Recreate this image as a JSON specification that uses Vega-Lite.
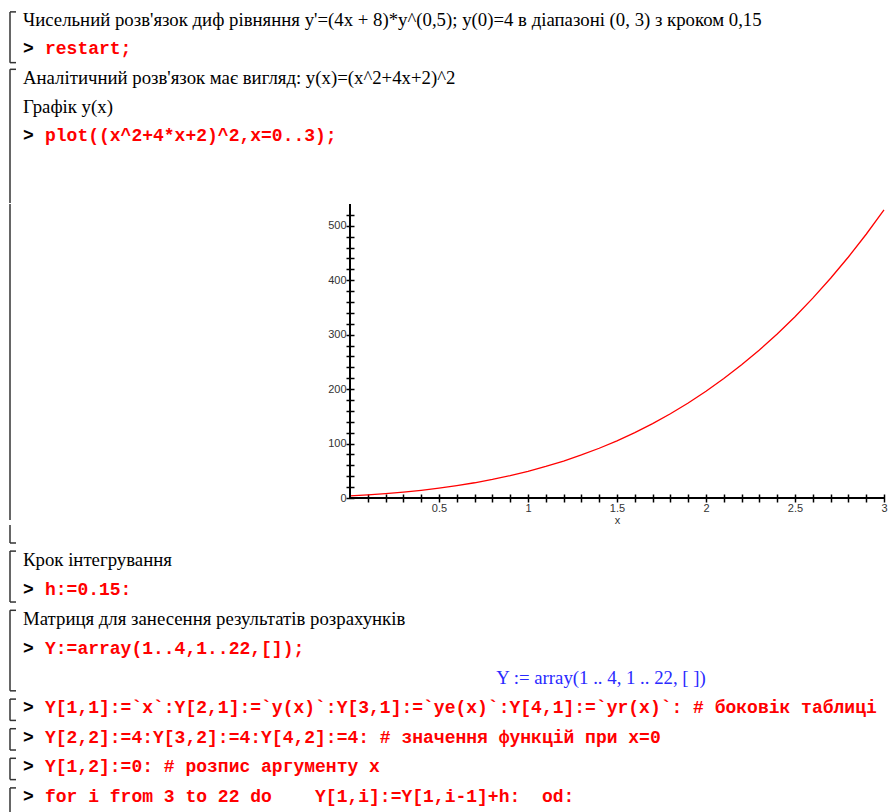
{
  "$schema": "https://vega.github.io/schema/vega-lite/v6.json",
  "padding": 0,
  "background": "white",
  "config": {"view": {"stroke": null}},
  "datasets": {
    "top": [
      {"line": 1, "kind": "prose", "text": "Чисельний розв'язок диф рівняння y'=(4x + 8)*y^(0,5);  y(0)=4 в діапазоні (0, 3) з кроком 0,15"},
      {"line": 2, "kind": "code", "text": "restart;"},
      {"line": 3, "kind": "prose", "text": "Аналітичний розв'язок має вигляд: y(x)=(x^2+4x+2)^2"},
      {"line": 4, "kind": "prose", "text": "Графік y(x)"},
      {"line": 5, "kind": "code", "text": "plot((x^2+4*x+2)^2,x=0..3);"}
    ],
    "topBrackets": [
      {"from": 0.72, "to": 2.47, "hookTop": true, "hookBottom": true},
      {"from": 2.7, "to": 7.31, "hookTop": true, "hookBottom": false}
    ],
    "midBrackets": [
      {"from": -0.075, "to": 1}
    ],
    "bottom": [
      {"line": 1, "kind": "prose", "text": "Крок інтегрування"},
      {"line": 2, "kind": "code", "text": "h:=0.15:"},
      {"line": 3, "kind": "prose", "text": "Матриця для занесення результатів розрахунків"},
      {"line": 4, "kind": "code", "text": "Y:=array(1..4,1..22,[]);"},
      {"line": 5, "kind": "output", "text": "Y := array(1 .. 4, 1 .. 22, [ ])"},
      {"line": 6, "kind": "code", "text": "Y[1,1]:=`x`:Y[2,1]:=`y(x)`:Y[3,1]:=`ye(x)`:Y[4,1]:=`yr(x)`: # боковік таблиці"},
      {"line": 7, "kind": "code", "text": "Y[2,2]:=4:Y[3,2]:=4:Y[4,2]:=4: # значення функцій при x=0"},
      {"line": 8, "kind": "code", "text": "Y[1,2]:=0: # розпис аргументу x"},
      {"line": 9, "kind": "code", "text": "for i from 3 to 22 do\u00a0\u00a0\u00a0\u00a0Y[1,i]:=Y[1,i-1]+h:\u00a0\u00a0od:"}
    ],
    "bottomBrackets": [
      {"from": -0.182, "to": 0.426, "hookTop": false, "hookBottom": true},
      {"from": 0.7, "to": 2.42, "hookTop": true, "hookBottom": true},
      {"from": 2.7, "to": 5.42, "hookTop": true, "hookBottom": true},
      {"from": 5.7, "to": 6.42, "hookTop": true, "hookBottom": true},
      {"from": 6.7, "to": 7.42, "hookTop": true, "hookBottom": true},
      {"from": 7.7, "to": 8.42, "hookTop": true, "hookBottom": true},
      {"from": 8.7, "to": 9.514, "hookTop": true, "hookBottom": false}
    ],
    "curve": [
      {"x": 0.0, "y": 4.0}, {"x": 0.1, "y": 5.81}, {"x": 0.2, "y": 8.07}, {"x": 0.3, "y": 10.82},
      {"x": 0.4, "y": 14.14}, {"x": 0.5, "y": 18.06}, {"x": 0.6, "y": 22.66}, {"x": 0.7, "y": 27.98},
      {"x": 0.8, "y": 34.11}, {"x": 0.9, "y": 41.09}, {"x": 1.0, "y": 49.0}, {"x": 1.1, "y": 57.91},
      {"x": 1.2, "y": 67.9}, {"x": 1.3, "y": 79.03}, {"x": 1.4, "y": 91.39}, {"x": 1.5, "y": 105.06},
      {"x": 1.6, "y": 120.12}, {"x": 1.7, "y": 136.66}, {"x": 1.8, "y": 154.75}, {"x": 1.9, "y": 174.5},
      {"x": 2.0, "y": 196.0}, {"x": 2.1, "y": 219.34}, {"x": 2.2, "y": 244.61}, {"x": 2.3, "y": 271.92},
      {"x": 2.4, "y": 301.37}, {"x": 2.5, "y": 333.06}, {"x": 2.6, "y": 367.11}, {"x": 2.7, "y": 403.61},
      {"x": 2.8, "y": 442.68}, {"x": 2.9, "y": 484.44}, {"x": 3.0, "y": 529.0}
    ]
  },
  "spacing": -2,
  "vconcat": [
    {
      "width": 890,
      "height": 203,
      "layer": [
        {
          "data": {"name": "topBrackets"},
          "mark": {"type": "rule", "color": "#333", "strokeWidth": 1.5},
          "encoding": {
            "x": {"datum": 1.0, "type": "quantitative", "scale": {"domain": [0, 89]}, "axis": null},
            "y": {"field": "from", "type": "quantitative", "scale": {"domain": [0.31, 7.31], "reverse": true}, "axis": null},
            "y2": {"field": "to"}
          }
        },
        {
          "data": {"name": "topBrackets"},
          "transform": [{"filter": "datum.hookTop"}],
          "mark": {"type": "rule", "color": "#333", "strokeWidth": 1.5},
          "encoding": {
            "x": {"datum": 1.0, "type": "quantitative", "scale": {"domain": [0, 89]}, "axis": null},
            "x2": {"datum": 1.6},
            "y": {"field": "from", "type": "quantitative", "scale": {"domain": [0.31, 7.31], "reverse": true}, "axis": null}
          }
        },
        {
          "data": {"name": "topBrackets"},
          "transform": [{"filter": "datum.hookBottom"}],
          "mark": {"type": "rule", "color": "#333", "strokeWidth": 1.5},
          "encoding": {
            "x": {"datum": 1.0, "type": "quantitative", "scale": {"domain": [0, 89]}, "axis": null},
            "x2": {"datum": 1.6},
            "y": {"field": "to", "type": "quantitative", "scale": {"domain": [0.31, 7.31], "reverse": true}, "axis": null}
          }
        },
        {
          "data": {"name": "top"},
          "transform": [{"filter": "datum.kind === 'prose'"}],
          "mark": {"type": "text", "align": "left", "baseline": "middle", "font": "Liberation Serif", "fontSize": 18.8, "color": "#000"},
          "encoding": {
            "x": {"datum": 2.3, "type": "quantitative", "scale": {"domain": [0, 89]}, "axis": null},
            "y": {"field": "line", "type": "quantitative", "scale": {"domain": [0.31, 7.31], "reverse": true}, "axis": null},
            "text": {"field": "text"}
          }
        },
        {
          "data": {"name": "top"},
          "transform": [{"filter": "datum.kind === 'code'"}],
          "mark": {"type": "text", "align": "left", "baseline": "middle", "font": "Liberation Mono", "fontWeight": "bold", "fontSize": 18, "color": "#000"},
          "encoding": {
            "x": {"datum": 2.3, "type": "quantitative", "scale": {"domain": [0, 89]}, "axis": null},
            "y": {"field": "line", "type": "quantitative", "scale": {"domain": [0.31, 7.31], "reverse": true}, "axis": null},
            "text": {"value": ">"}
          }
        },
        {
          "data": {"name": "top"},
          "transform": [{"filter": "datum.kind === 'code'"}],
          "mark": {"type": "text", "align": "left", "baseline": "middle", "font": "Liberation Mono", "fontWeight": "bold", "fontSize": 18, "color": "#ff0000"},
          "encoding": {
            "x": {"datum": 4.5, "type": "quantitative", "scale": {"domain": [0, 89]}, "axis": null},
            "y": {"field": "line", "type": "quantitative", "scale": {"domain": [0.31, 7.31], "reverse": true}, "axis": null},
            "text": {"field": "text"}
          }
        }
      ]
    },
    {
      "spacing": 0,
      "bounds": "flush",
      "hconcat": [
        {
          "width": 350,
          "height": 294,
          "data": {"name": "midBrackets"},
          "mark": {"type": "rule", "color": "#333", "strokeWidth": 1.5},
          "encoding": {
            "x": {"datum": 1.0, "type": "quantitative", "scale": {"domain": [0, 35]}, "axis": null},
            "y": {"field": "from", "type": "quantitative", "scale": {"domain": [0, 1]}, "axis": null},
            "y2": {"field": "to"}
          }
        },
        {
          "width": 534,
          "height": 294,
          "resolve": {"axis": {"x": "independent", "y": "independent"}},
          "layer": [
            {
              "data": {"name": "curve"},
              "mark": {"type": "line", "color": "#ff0000", "strokeWidth": 1.3},
              "encoding": {
                "x": {
                  "field": "x", "type": "quantitative",
                  "scale": {"domain": [0, 3], "nice": false, "zero": false},
                  "axis": {
                    "orient": "bottom",
                    "values": [0.5, 1, 1.5, 2, 2.5, 3],
                    "format": "~g",
                    "domain": false, "grid": false, "offset": -4,
                    "tickSize": 8, "tickWidth": 1.5, "tickColor": "#000",
                    "labelColor": "#333", "labelFont": "Liberation Sans", "labelFontSize": 11,
                    "labelPadding": 0, "labelOverlap": false, "labelFlush": false, "labelBound": false,
                    "title": "x", "titleFont": "Liberation Sans", "titleFontSize": 11, "titleFontWeight": "normal",
                    "titleColor": "#333", "titlePadding": 1
                  }
                },
                "y": {
                  "field": "y", "type": "quantitative",
                  "scale": {"domain": [0, 540], "nice": false},
                  "axis": {
                    "orient": "left",
                    "values": [0, 100, 200, 300, 400, 500],
                    "domain": false, "grid": false, "offset": -4,
                    "tickSize": 8, "tickWidth": 1.5, "tickColor": "#000",
                    "labelColor": "#333", "labelFont": "Liberation Sans", "labelFontSize": 11,
                    "labelPadding": 0, "labelOverlap": false, "labelBound": false,
                    "title": null
                  }
                }
              }
            },
            {
              "data": {"values": [{}]},
              "mark": {"type": "rule", "color": "#000", "strokeWidth": 2},
              "encoding": {
                "x": {
                  "datum": 0, "type": "quantitative",
                  "axis": {
                    "orient": "bottom",
                    "values": [0.1, 0.2, 0.3, 0.4, 0.6, 0.7, 0.8, 0.9, 1.1, 1.2, 1.3, 1.4, 1.6, 1.7, 1.8, 1.9, 2.1, 2.2, 2.3, 2.4, 2.6, 2.7, 2.8, 2.9],
                    "labels": false, "domain": false, "grid": false, "offset": -4,
                    "tickSize": 8, "tickWidth": 1.5, "tickColor": "#000", "title": null
                  }
                },
                "x2": {"datum": 3},
                "y": {"datum": 0, "type": "quantitative", "axis": null}
              }
            },
            {
              "data": {"values": [{}]},
              "mark": {"type": "rule", "color": "#000", "strokeWidth": 2},
              "encoding": {
                "x": {"datum": 0, "type": "quantitative", "axis": null},
                "y": {
                  "datum": 0, "type": "quantitative",
                  "axis": {
                    "orient": "left",
                    "values": [20, 40, 60, 80, 120, 140, 160, 180, 220, 240, 260, 280, 320, 340, 360, 380, 420, 440, 460, 480, 520],
                    "labels": false, "domain": false, "grid": false, "offset": -4,
                    "tickSize": 8, "tickWidth": 1.5, "tickColor": "#000", "title": null
                  }
                },
                "y2": {"datum": 540}
              }
            }
          ]
        }
      ]
    },
    {
      "width": 890,
      "height": 287,
      "layer": [
        {
          "data": {"name": "bottomBrackets"},
          "mark": {"type": "rule", "color": "#333", "strokeWidth": 1.5},
          "encoding": {
            "x": {"datum": 1.0, "type": "quantitative", "scale": {"domain": [0, 89]}, "axis": null},
            "y": {"field": "from", "type": "quantitative", "scale": {"domain": [-0.182, 9.514], "reverse": true}, "axis": null},
            "y2": {"field": "to"}
          }
        },
        {
          "data": {"name": "bottomBrackets"},
          "transform": [{"filter": "datum.hookTop"}],
          "mark": {"type": "rule", "color": "#333", "strokeWidth": 1.5},
          "encoding": {
            "x": {"datum": 1.0, "type": "quantitative", "scale": {"domain": [0, 89]}, "axis": null},
            "x2": {"datum": 1.6},
            "y": {"field": "from", "type": "quantitative", "scale": {"domain": [-0.182, 9.514], "reverse": true}, "axis": null}
          }
        },
        {
          "data": {"name": "bottomBrackets"},
          "transform": [{"filter": "datum.hookBottom"}],
          "mark": {"type": "rule", "color": "#333", "strokeWidth": 1.5},
          "encoding": {
            "x": {"datum": 1.0, "type": "quantitative", "scale": {"domain": [0, 89]}, "axis": null},
            "x2": {"datum": 1.6},
            "y": {"field": "to", "type": "quantitative", "scale": {"domain": [-0.182, 9.514], "reverse": true}, "axis": null}
          }
        },
        {
          "data": {"name": "bottom"},
          "transform": [{"filter": "datum.kind === 'prose'"}],
          "mark": {"type": "text", "align": "left", "baseline": "middle", "font": "Liberation Serif", "fontSize": 18.8, "color": "#000"},
          "encoding": {
            "x": {"datum": 2.3, "type": "quantitative", "scale": {"domain": [0, 89]}, "axis": null},
            "y": {"field": "line", "type": "quantitative", "scale": {"domain": [-0.182, 9.514], "reverse": true}, "axis": null},
            "text": {"field": "text"}
          }
        },
        {
          "data": {"name": "bottom"},
          "transform": [{"filter": "datum.kind === 'code'"}],
          "mark": {"type": "text", "align": "left", "baseline": "middle", "font": "Liberation Mono", "fontWeight": "bold", "fontSize": 18, "color": "#000"},
          "encoding": {
            "x": {"datum": 2.3, "type": "quantitative", "scale": {"domain": [0, 89]}, "axis": null},
            "y": {"field": "line", "type": "quantitative", "scale": {"domain": [-0.182, 9.514], "reverse": true}, "axis": null},
            "text": {"value": ">"}
          }
        },
        {
          "data": {"name": "bottom"},
          "transform": [{"filter": "datum.kind === 'code'"}],
          "mark": {"type": "text", "align": "left", "baseline": "middle", "font": "Liberation Mono", "fontWeight": "bold", "fontSize": 18, "color": "#ff0000"},
          "encoding": {
            "x": {"datum": 4.5, "type": "quantitative", "scale": {"domain": [0, 89]}, "axis": null},
            "y": {"field": "line", "type": "quantitative", "scale": {"domain": [-0.182, 9.514], "reverse": true}, "axis": null},
            "text": {"field": "text"}
          }
        },
        {
          "data": {"name": "bottom"},
          "transform": [{"filter": "datum.kind === 'output'"}],
          "mark": {"type": "text", "align": "center", "baseline": "middle", "font": "Liberation Serif", "fontSize": 18.8, "color": "#2a2aff"},
          "encoding": {
            "x": {"datum": 60.1, "type": "quantitative", "scale": {"domain": [0, 89]}, "axis": null},
            "y": {"field": "line", "type": "quantitative", "scale": {"domain": [-0.182, 9.514], "reverse": true}, "axis": null},
            "text": {"field": "text"}
          }
        }
      ]
    }
  ]
}
